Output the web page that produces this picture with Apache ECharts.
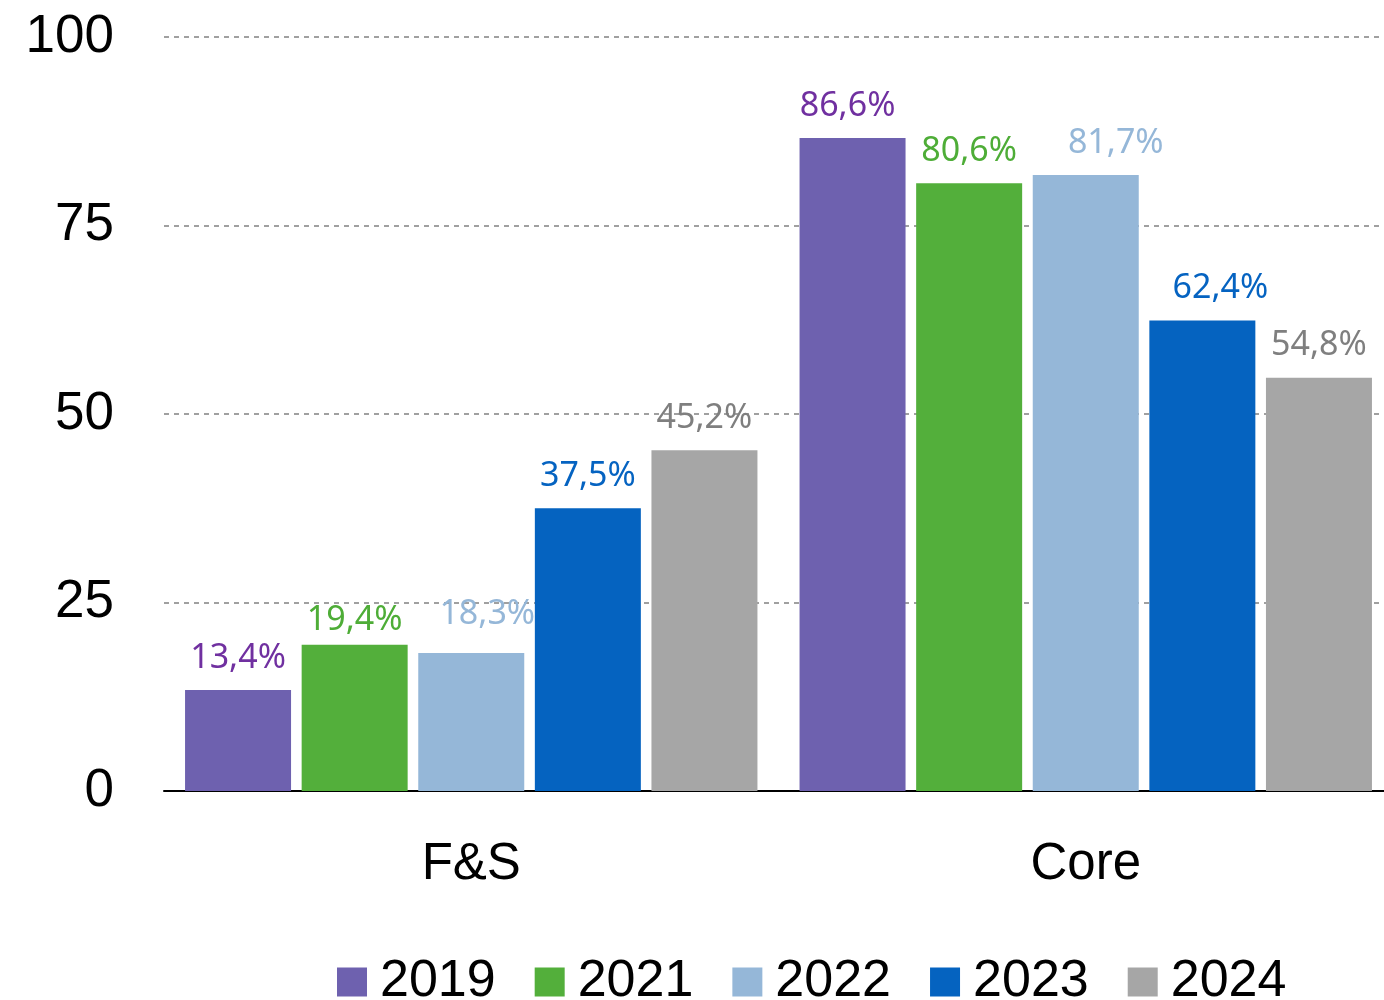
<!DOCTYPE html>
<html><head><meta charset="utf-8">
<script src="https://cdn.jsdelivr.net/npm/echarts@6/dist/echarts.min.js"></script>
<style>html,body{margin:0;padding:0;background:#fff;overflow:hidden}#c{width:1400px;height:1000px}</style>
</head><body><div id="c"></div>
<script>
const categories = ['F&S', 'Core'];
const seriesNames = ['2019', '2021', '2022', '2023', '2024'];
const v2019 = [13.4, 86.6];
const v2021 = [19.4, 80.6];
const v2022 = [18.3, 81.7];
const v2023 = [37.5, 62.4];
const v2024 = [45.2, 54.8];
const yTicks = [0, 25, 50, 75, 100];

const values = [v2019, v2021, v2022, v2023, v2024];
const barColors = ['#6E61AF', '#53AF3B', '#95B7D8', '#0563C0', '#A6A6A6'];
const labelColors = ['#7030A0', '#4EAD37', '#95B7D8', '#0563C1', '#7F7F7F'];
// per-label fine offsets [series][category] -> [dx, dy]
const labelOffsets = [
  [[0, 0], [-5, 0]],
  [[0, 8], [0, 0]],
  [[16, -7], [30, 0]],
  [[0, 0], [18, 0]],
  [[0, 0], [0, 0]]
];

const labelFont = '"Liberation Sans Narrow", "Arial Narrow", "Noto Sans", sans-serif';
const mainFont = '"Liberation Sans", Arial, sans-serif';

const series = seriesNames.map((name, i) => ({
  name,
  type: 'bar',
  barWidth: 106,
  barGap: '10%',
  itemStyle: { color: barColors[i] },
  data: values[i].map((v, j) => ({
    value: v,
    label: { offset: labelOffsets[i][j] }
  })),
  label: {
    show: true,
    position: 'top',
    distance: 15,
    color: labelColors[i],
    fontFamily: labelFont,
    fontSize: 34,
    formatter: p => String(p.value).replace('.', ',') + '%'
  }
}));

const chart = echarts.init(document.getElementById('c'));
chart.setOption({
  animation: false,
  backgroundColor: '#fff',
  grid: { left: 164, top: 37, width: 1229, height: 754, containLabel: false },
  legend: {
    data: seriesNames,
    left: 332,
    top: 951,
    itemWidth: 30,
    itemHeight: 29,
    itemGap: 39,
    icon: 'rect',
    textStyle: { fontSize: 52, color: '#000', fontFamily: mainFont, padding: [0, 0, 0, 8] }
  },
  xAxis: {
    type: 'category',
    data: categories,
    axisLine: { lineStyle: { color: '#000', width: 2 } },
    axisTick: { show: false },
    axisLabel: { fontSize: 51, color: '#000', fontFamily: mainFont, margin: 48 }
  },
  yAxis: {
    type: 'value',
    min: yTicks[0],
    max: yTicks[yTicks.length - 1],
    interval: 25,
    axisLine: { show: false },
    axisTick: { show: false },
    axisLabel: { fontSize: 53, color: '#000', fontFamily: mainFont, margin: 50, padding: [6, 0, 0, 0] },
    splitLine: { lineStyle: { color: '#A0A0A0', width: 2, type: [5, 5] } }
  },
  series
});
</script>
</body></html>
